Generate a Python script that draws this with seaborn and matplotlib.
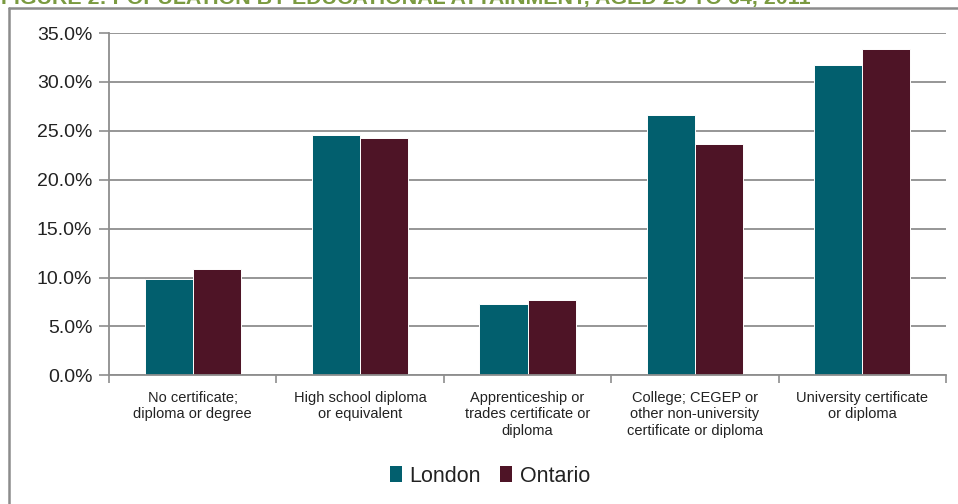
import matplotlib
matplotlib.use("Agg")
import matplotlib.pyplot as plt
from matplotlib.lines import Line2D
from matplotlib.patches import Patch
from matplotlib.ticker import PercentFormatter, FixedLocator
import seaborn as sns
import pandas as pd

# Educational attainment, population aged 25 to 64 (% of total)
categories = [
    "No certificate;\ndiploma or degree",
    "High school diploma\nor equivalent",
    "Apprenticeship or\ntrades certificate or\ndiploma",
    "College; CEGEP or\nother non-university\ncertificate or diploma",
    "University certificate\nor diploma",
]
london = [9.8, 24.6, 7.3, 26.6, 31.7]
ontario = [10.9, 24.3, 7.7, 23.6, 33.4]
regions = ["London", "Ontario"]
colors = ["#025F6E", "#4E1426"]
title = "FIGURE 2: POPULATION BY EDUCATIONAL ATTAINMENT, AGED 25 TO 64, 2011"

df = pd.DataFrame({
    "category": categories * 2,
    "value": london + ontario,
    "region": [regions[0]] * len(categories) + [regions[1]] * len(categories),
})

sns.set_theme(style="white")
plt.rcParams["font.family"] = ["Liberation Sans", "DejaVu Sans"]

W, H = 958, 504
fig = plt.figure(figsize=(W / 100, H / 100), dpi=100)
ax = fig.add_axes([109 / W, 1 - 375.3 / H, 837 / W, 342.3 / H])

sns.barplot(
    data=df, x="category", y="value", hue="region",
    palette=colors, width=0.575, gap=0, saturation=1,
    edgecolor="white", linewidth=0.7, ax=ax, legend=False,
)

grid_c = "#8e8e8e"
ax.set_ylim(0, 35)
ax.set_xlim(-0.5, len(categories) - 0.5)
ax.set_yticks(range(0, 36, 5))
ax.yaxis.set_major_formatter(PercentFormatter(decimals=1))
ax.yaxis.grid(True, color=grid_c, linewidth=1.3)
ax.set_axisbelow(True)
ax.set_xlabel("")
ax.set_ylabel("")

for s in ["top", "right"]:
    ax.spines[s].set_visible(False)
for s in ["left", "bottom"]:
    ax.spines[s].set_visible(True)
    ax.spines[s].set_color(grid_c)
    ax.spines[s].set_linewidth(1.3)

ax.tick_params(axis="y", which="major", left=True, length=7, width=1.2,
               color=grid_c, labelsize=14, labelcolor="#222222", pad=5)
ax.tick_params(axis="x", which="major", bottom=False, length=0,
               labelsize=10.5, labelcolor="#222222", pad=11)
ax.xaxis.set_minor_locator(FixedLocator([i - 0.5 for i in range(len(categories) + 1)]))
ax.tick_params(axis="x", which="minor", bottom=True, length=6, width=1.2,
               color=grid_c)
for lbl in ax.get_xticklabels():
    lbl.set_linespacing(1.25)

# Legend below the chart
handles = [Patch(facecolor=c, edgecolor="none") for c in colors]
fig.legend(handles, regions, loc="center", bbox_to_anchor=(490 / W, 1 - 476 / H),
           ncol=2, frameon=False, fontsize=15.5, handlelength=0.55,
           handleheight=0.75, handletextpad=0.35, columnspacing=0.9,
           labelcolor="#222222")

# Surrounding frame
frame_c = "#8c8c8c"
fig.add_artist(Line2D([9 / W, 9 / W], [0, 1 - 8 / H], transform=fig.transFigure,
                      color=frame_c, linewidth=1.8))
fig.add_artist(Line2D([9 / W, 1], [1 - 8 / H, 1 - 8 / H], transform=fig.transFigure,
                      color=frame_c, linewidth=1.8))

# Figure title along the top edge
fig.text(1 / W, 1 - 4 / H, title, ha="left", va="baseline", fontsize=15.4,
         fontweight="bold", color="#7A9A40")

fig.savefig("out.png", dpi=100, facecolor="white")
